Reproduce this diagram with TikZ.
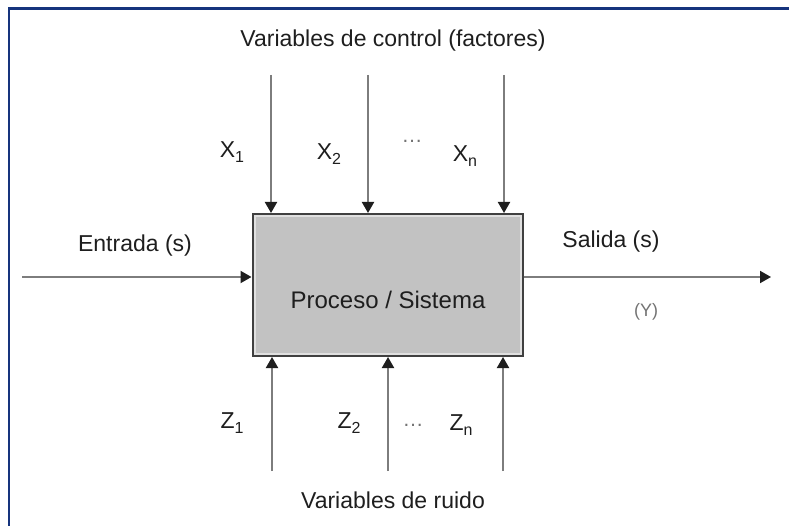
\documentclass[tikz,border=0pt]{standalone}
\usepackage{fontspec}
\setmainfont{Liberation Sans}
\usetikzlibrary{positioning, arrows.meta, calc}
\definecolor{marcoazul}{RGB}{22, 52, 125}
\definecolor{cajagris}{RGB}{194, 194, 194}
\definecolor{lineagris}{RGB}{125, 125, 125}
\definecolor{textonegro}{RGB}{30, 30, 30}
\newcommand{\subind}[1]{\raisebox{-5pt}{\fontsize{16}{18}\selectfont #1}}

\begin{document}
\begin{tikzpicture}[x=1pt, y=-1pt,
  flecha/.style={-{Triangle[length=11pt, width=12pt, color=textonegro]},
    line width=1.9pt, lineagris},
  etiqueta/.style={font=\fontsize{23}{27}\selectfont, text=textonegro, inner sep=0pt},
  puntos/.style={font=\fontsize{21}{23}\selectfont, text=black!55, inner sep=0pt}]
\useasboundingbox (0,0) rectangle (789,526);
% marco
\draw[marcoazul, line width=2.6pt] (9,527) -- (9,8.3) -- (790,8.3);
% caja del proceso
\node[draw=black!75, line width=2pt, fill=black!12, minimum width=270pt,
  minimum height=142pt, inner sep=0pt] (proc) at (387.5,285) {};
\fill[cajagris] ([shift={(4,4)}]proc.north west) rectangle ([shift={(-4,-4)}]proc.south east);
\node[etiqueta, font=\fontsize{24}{28}\selectfont] (proctxt) at (388,300) {Proceso / Sistema};
% entrada y salida
\coordinate (ent) at (22,277);
\coordinate (sal) at (771,277);
\draw[flecha] (ent) -- (ent -| proc.west);
\draw[flecha] (sal -| proc.east) -- (sal);
\node[etiqueta] (enttxt) at (135,246) {Entrada (s)};
\node[etiqueta] (saltxt) at (611,242) {Salida (s)};
\node[font=\fontsize{18}{21}\selectfont, text=black!55, inner sep=0pt] (ytxt) at (646,312) {(Y)};
% variables de control
\node[etiqueta] (ctrl) at (393,41) {Variables de control (factores)};
\foreach \nom/\xx in {xa/271, xb/368, xc/504}
  \coordinate (\nom) at (\xx,75);
\foreach \nom in {xa, xb, xc}
  \draw[flecha] (\nom) -- (\nom |- proc.north);
\node[etiqueta] (x1) at (232,152) {X\subind{1}};
\node[etiqueta] (x2) at (329,154) {X\subind{2}};
\node[puntos] (xdots) at (412,141) {\dots};
\node[etiqueta] (xn) at (465,156) {X\subind{n}};
% variables de ruido
\node[etiqueta] (ruido) at (393,500) {Variables de ruido};
\foreach \nom/\xx in {za/272, zb/388, zc/503}
  \coordinate (\nom) at (\xx,471);
\foreach \nom in {za, zb, zc}
  \draw[flecha] (\nom) -- (\nom |- proc.south);
\node[etiqueta] (z1) at (232,423) {Z\subind{1}};
\node[etiqueta] (z2) at (349,423) {Z\subind{2}};
\node[puntos] (zdots) at (413,425) {\dots};
\node[etiqueta] (zn) at (461,425) {Z\subind{n}};
\end{tikzpicture}
\end{document}
